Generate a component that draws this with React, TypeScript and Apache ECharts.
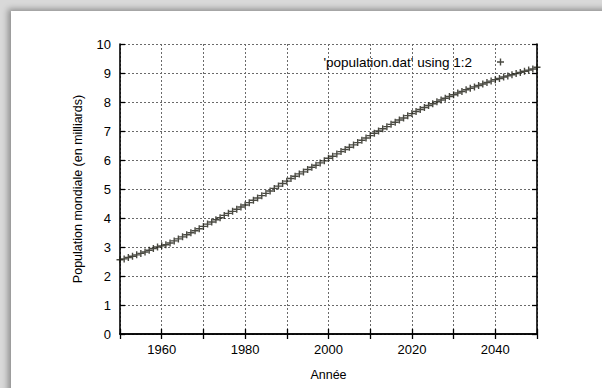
import React, { useEffect, useRef } from "react";
import * as echarts from "echarts";

const START_YEAR = 1950;
const population = [
  2.56, 2.59, 2.64, 2.68, 2.73, 2.78, 2.83, 2.89, 2.95, 3.0,
  3.04, 3.08, 3.14, 3.21, 3.28, 3.35, 3.42, 3.49, 3.56, 3.63,
  3.71, 3.79, 3.86, 3.94, 4.01, 4.09, 4.16, 4.23, 4.3, 4.38,
  4.45, 4.53, 4.61, 4.69, 4.77, 4.85, 4.93, 5.02, 5.1, 5.19,
  5.27, 5.36, 5.44, 5.52, 5.59, 5.67, 5.75, 5.82, 5.9, 5.97,
  6.06, 6.13, 6.21, 6.29, 6.36, 6.44, 6.52, 6.6, 6.68, 6.76,
  6.84, 6.92, 7.0, 7.08, 7.15, 7.23, 7.3, 7.38, 7.45, 7.53,
  7.6, 7.67, 7.74, 7.81, 7.88, 7.94, 8.01, 8.07, 8.13, 8.19,
  8.25, 8.31, 8.36, 8.42, 8.47, 8.52, 8.57, 8.62, 8.67, 8.72,
  8.77, 8.81, 8.86, 8.9, 8.94, 8.98, 9.02, 9.06, 9.1, 9.14,
  9.2,
];
const xTickLabels = [1960, 1980, 2000, 2020, 2040];
const seriesName = "'population.dat' using 1:2";
const xName = "Année";
const yName = "Population mondiale (en milliards)";

const PLUS = "path://M4,0H6V4H10V6H6V10H4V6H0V4H4Z";
const FONT = "'Liberation Sans', Arial, sans-serif";

export default function App() {
  const ref = useRef<HTMLDivElement>(null);
  useEffect(() => {
    if (!ref.current) return;
    const chart = echarts.init(ref.current, undefined, { renderer: "svg" });
    const data = population.map((v, i) => [START_YEAR + i, v]);
    const axisLine = { show: true, lineStyle: { color: "#000", width: 1.6 } };
    const tick = { show: true, inside: true, length: 5, lineStyle: { color: "#000", width: 1.3 } };
    const grid = { show: true, lineStyle: { color: "#6a6a6a", type: [2, 2] as any, width: 1 } };
    chart.setOption({
      animation: false,
      backgroundColor: "transparent",
      textStyle: { fontFamily: FONT },
      grid: { left: 120, right: 65, top: 44, bottom: 54 },
      legend: {
        show: true,
        data: [{ name: seriesName, icon: PLUS }],
        right: 93,
        top: 50,
        align: "right",
        itemWidth: 7,
        itemHeight: 7,
        textStyle: { fontSize: 13.5, color: "#000", fontFamily: FONT, padding: [0, 20, 0, 0] },
      },
      xAxis: [
        {
          type: "value",
          min: 1950,
          max: 2050,
          interval: 10,
          position: "bottom",
          name: xName,
          nameLocation: "middle",
          nameGap: 34,
          nameTextStyle: { fontSize: 12.5, color: "#000", fontFamily: FONT },
          axisLine,
          axisTick: tick,
          splitLine: grid,
          axisLabel: {
            fontSize: 13,
            color: "#000",
            margin: 9,
            formatter: (v: number) => (xTickLabels.includes(v) ? String(v) : ""),
          },
        },
        {
          type: "value",
          min: 1950,
          max: 2050,
          interval: 10,
          position: "top",
          axisLine,
          axisTick: tick,
          splitLine: { show: false },
          axisLabel: { show: false },
        },
      ],
      yAxis: [
        {
          type: "value",
          min: 0,
          max: 10,
          interval: 1,
          position: "left",
          name: yName,
          nameLocation: "middle",
          nameGap: 36,
          nameTextStyle: { fontSize: 12.5, color: "#000", fontFamily: FONT },
          axisLine,
          axisTick: tick,
          splitLine: grid,
          axisLabel: { fontSize: 13, color: "#000", margin: 9 },
        },
        {
          type: "value",
          min: 0,
          max: 10,
          interval: 1,
          position: "right",
          axisLine,
          axisTick: tick,
          splitLine: { show: false },
          axisLabel: { show: false },
        },
      ],
      series: [
        {
          name: seriesName,
          type: "scatter",
          data,
          symbol: PLUS,
          symbolSize: 7,
          itemStyle: { color: "#1c1c12" },
        },
      ],
    });
    return () => chart.dispose();
  }, []);

  return (
    <div style={{ position: "fixed", left: 0, top: 0, width: 602, height: 388, background: "#d9d9d9", overflow: "hidden" }}>
      <div
        style={{
          position: "absolute",
          left: 11,
          top: 11,
          right: -10,
          bottom: -10,
          background: "#ffffff",
          boxShadow: "-3px -2px 6px rgba(0,0,0,0.35)",
        }}
      />
      <div ref={ref} style={{ position: "absolute", left: 0, top: 0, width: 602, height: 388 }} />
    </div>
  );
}
